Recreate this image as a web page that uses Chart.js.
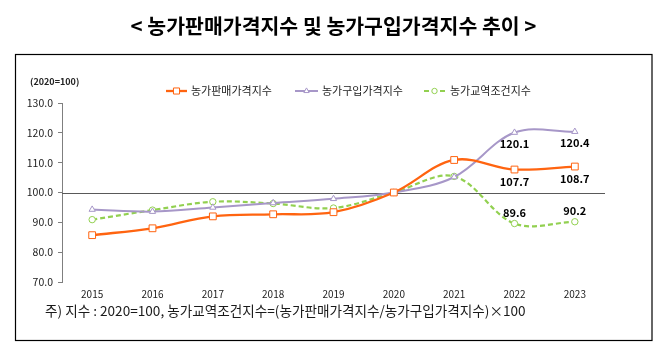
<!DOCTYPE html>
<html><head><meta charset="utf-8">
<script src="https://cdn.jsdelivr.net/npm/chart.js@4/dist/chart.umd.min.js"></script>
<style>html,body{margin:0;padding:0;background:#fff;}#wrap{width:665px;height:355px;position:relative;}</style>
</head><body><div id="wrap"><canvas id="c" width="665" height="355"></canvas></div>
<script>
const years = ['2015','2016','2017','2018','2019','2020','2021','2022','2023'];
const salesIndex = [85.7, 88.0, 92.0, 92.7, 93.4, 100.0, 110.9, 107.7, 108.7];
const purchaseIndex = [94.3, 93.6, 95.0, 96.5, 97.9, 100.0, 105.2, 120.1, 120.4];
const tradeIndex = [90.9, 94.1, 96.9, 96.3, 94.8, 100.0, 105.4, 89.6, 90.2];
const yTicks = [70, 80, 90, 100, 110, 120, 130];
const seriesNames = ['농가판매가격지수', '농가구입가격지수', '농가교역조건지수'];
const labeledYears = ['2022', '2023'];
const titleText = '< 농가판매가격지수 및 농가구입가격지수 추이 >';
const unitText = '(2020=100)';
const noteText = '주) 지수 : 2020=100, 농가교역조건지수=(농가판매가격지수/농가구입가격지수)×100';

const FONT = '"Noto Sans CJK KR", "Noto Sans", sans-serif';
const colors = ['#FF6410', '#A797C8', '#92D050'];

const decor = {
  id: 'decor',
  beforeDatasetsDraw(chart) {
    const ctx = chart.ctx, y = chart.scales.y, a = chart.chartArea;
    const py = y.getPixelForValue(100);
    ctx.save();
    ctx.strokeStyle = '#595959'; ctx.lineWidth = 1;
    ctx.beginPath(); ctx.moveTo(a.left, Math.round(py) + 0.5); ctx.lineTo(a.right, Math.round(py) + 0.5); ctx.stroke();
    ctx.restore();
  },
  afterDraw(chart) {
    const ctx = chart.ctx;
    ctx.save();
    // title
    ctx.fillStyle = '#000';
    ctx.font = 'bold 20.5px ' + FONT;
    ctx.textAlign = 'center'; ctx.textBaseline = 'middle';
    ctx.fillText(titleText, 333.5, 26);
    // box
    ctx.strokeStyle = '#000'; ctx.lineWidth = 1.2;
    ctx.strokeRect(15.5, 54.5, 636.5, 286);
    // unit
    ctx.font = 'bold 9px ' + FONT;
    ctx.textAlign = 'left';
    ctx.fillStyle = '#222';
    ctx.fillText(unitText, 30, 82);
    // legend
    const items = [
      {x0: 166, x1: 187, tx: 191},
      {x0: 295, x1: 318, tx: 322},
      {x0: 424, x1: 445, tx: 450}
    ];
    const ly = 91;
    chart.data.datasets.forEach((ds, i) => {
      const it = items[i];
      ctx.save();
      ctx.strokeStyle = ds.borderColor; ctx.lineWidth = ds.borderWidth;
      ctx.setLineDash(ds.borderDash || []);
      ctx.beginPath(); ctx.moveTo(it.x0, ly); ctx.lineTo(it.x1, ly); ctx.stroke();
      ctx.setLineDash([]);
      ctx.fillStyle = '#fff'; ctx.strokeStyle = ds.borderColor; ctx.lineWidth = 1;
      Chart.helpers.drawPoint(ctx, {pointStyle: ds.pointStyle, rotation: 0, borderWidth: 1, radius: ds.pointRadius - 0.5}, (it.x0 + it.x1) / 2, ly);
      ctx.restore();
      ctx.fillStyle = '#222';
      ctx.font = '11px ' + FONT;
      ctx.textAlign = 'left'; ctx.textBaseline = 'middle';
      ctx.fillText(ds.label, it.tx, ly);
    });
    // footnote
    ctx.font = '13.6px ' + FONT;
    ctx.fillStyle = '#1a1a1a';
    ctx.textAlign = 'left';
    ctx.fillText(noteText, 45, 311);
    ctx.restore();
  },
  afterDatasetsDraw(chart) {
    const ctx = chart.ctx;
    ctx.save();
    ctx.font = 'bold 11px ' + FONT;
    ctx.fillStyle = '#000';
    ctx.textAlign = 'center'; ctx.textBaseline = 'middle';
    const offs = [12, 11, -11];
    chart.data.datasets.forEach((ds, i) => {
      const meta = chart.getDatasetMeta(i);
      chart.data.labels.forEach((lab, j) => {
        if (!labeledYears.includes(lab)) return;
        const p = meta.data[j];
        ctx.fillText(ds.data[j].toFixed(1), p.x, p.y + offs[i]);
      });
    });
    ctx.restore();
  }
};

const mk = (i, data, style, r, extra) => Object.assign({
  label: seriesNames[i], data, borderColor: colors[i], backgroundColor: '#fff',
  pointStyle: style, pointRadius: r, pointBorderWidth: 1, pointBackgroundColor: '#fff',
  pointBorderColor: colors[i], borderWidth: 2.2, tension: 0.35, fill: false
}, extra || {});

new Chart(document.getElementById('c'), {
  type: 'line',
  data: {
    labels: years,
    datasets: [
      mk(0, salesIndex, 'rect', 4.8, {borderWidth: 2.3}),
      mk(1, purchaseIndex, 'triangle', 3.6, {borderWidth: 2}),
      mk(2, tradeIndex, 'circle', 3.2, {borderWidth: 2.2, borderDash: [5, 3]})
    ]
  },
  options: {
    responsive: false, animation: false, devicePixelRatio: 1,
    layout: {padding: {left: 0, top: 103, right: 60, bottom: 0}},
    plugins: {legend: {display: false}, tooltip: {enabled: false}},
    scales: {
      x: {
        offset: true,
        grid: {display: false, drawTicks: false},
        border: {display: false},
        ticks: {padding: 6, font: {family: FONT, size: 10}, color: '#222', maxRotation: 0},
        afterFit(s) { s.height = 355 - 282; }
      },
      y: {
        min: 70, max: 130,
        afterBuildTicks(s) { s.ticks = yTicks.map(v => ({value: v})); },
        grid: {drawOnChartArea: false, tickLength: 4, color: '#7f7f7f'},
        border: {display: true, color: '#7f7f7f'},
        ticks: {padding: 5, font: {family: FONT, size: 10.5}, color: '#222', callback: v => Number(v).toFixed(1)},
        afterFit(s) { s.width = 62; }
      }
    }
  },
  plugins: [decor]
});
</script></body></html>
